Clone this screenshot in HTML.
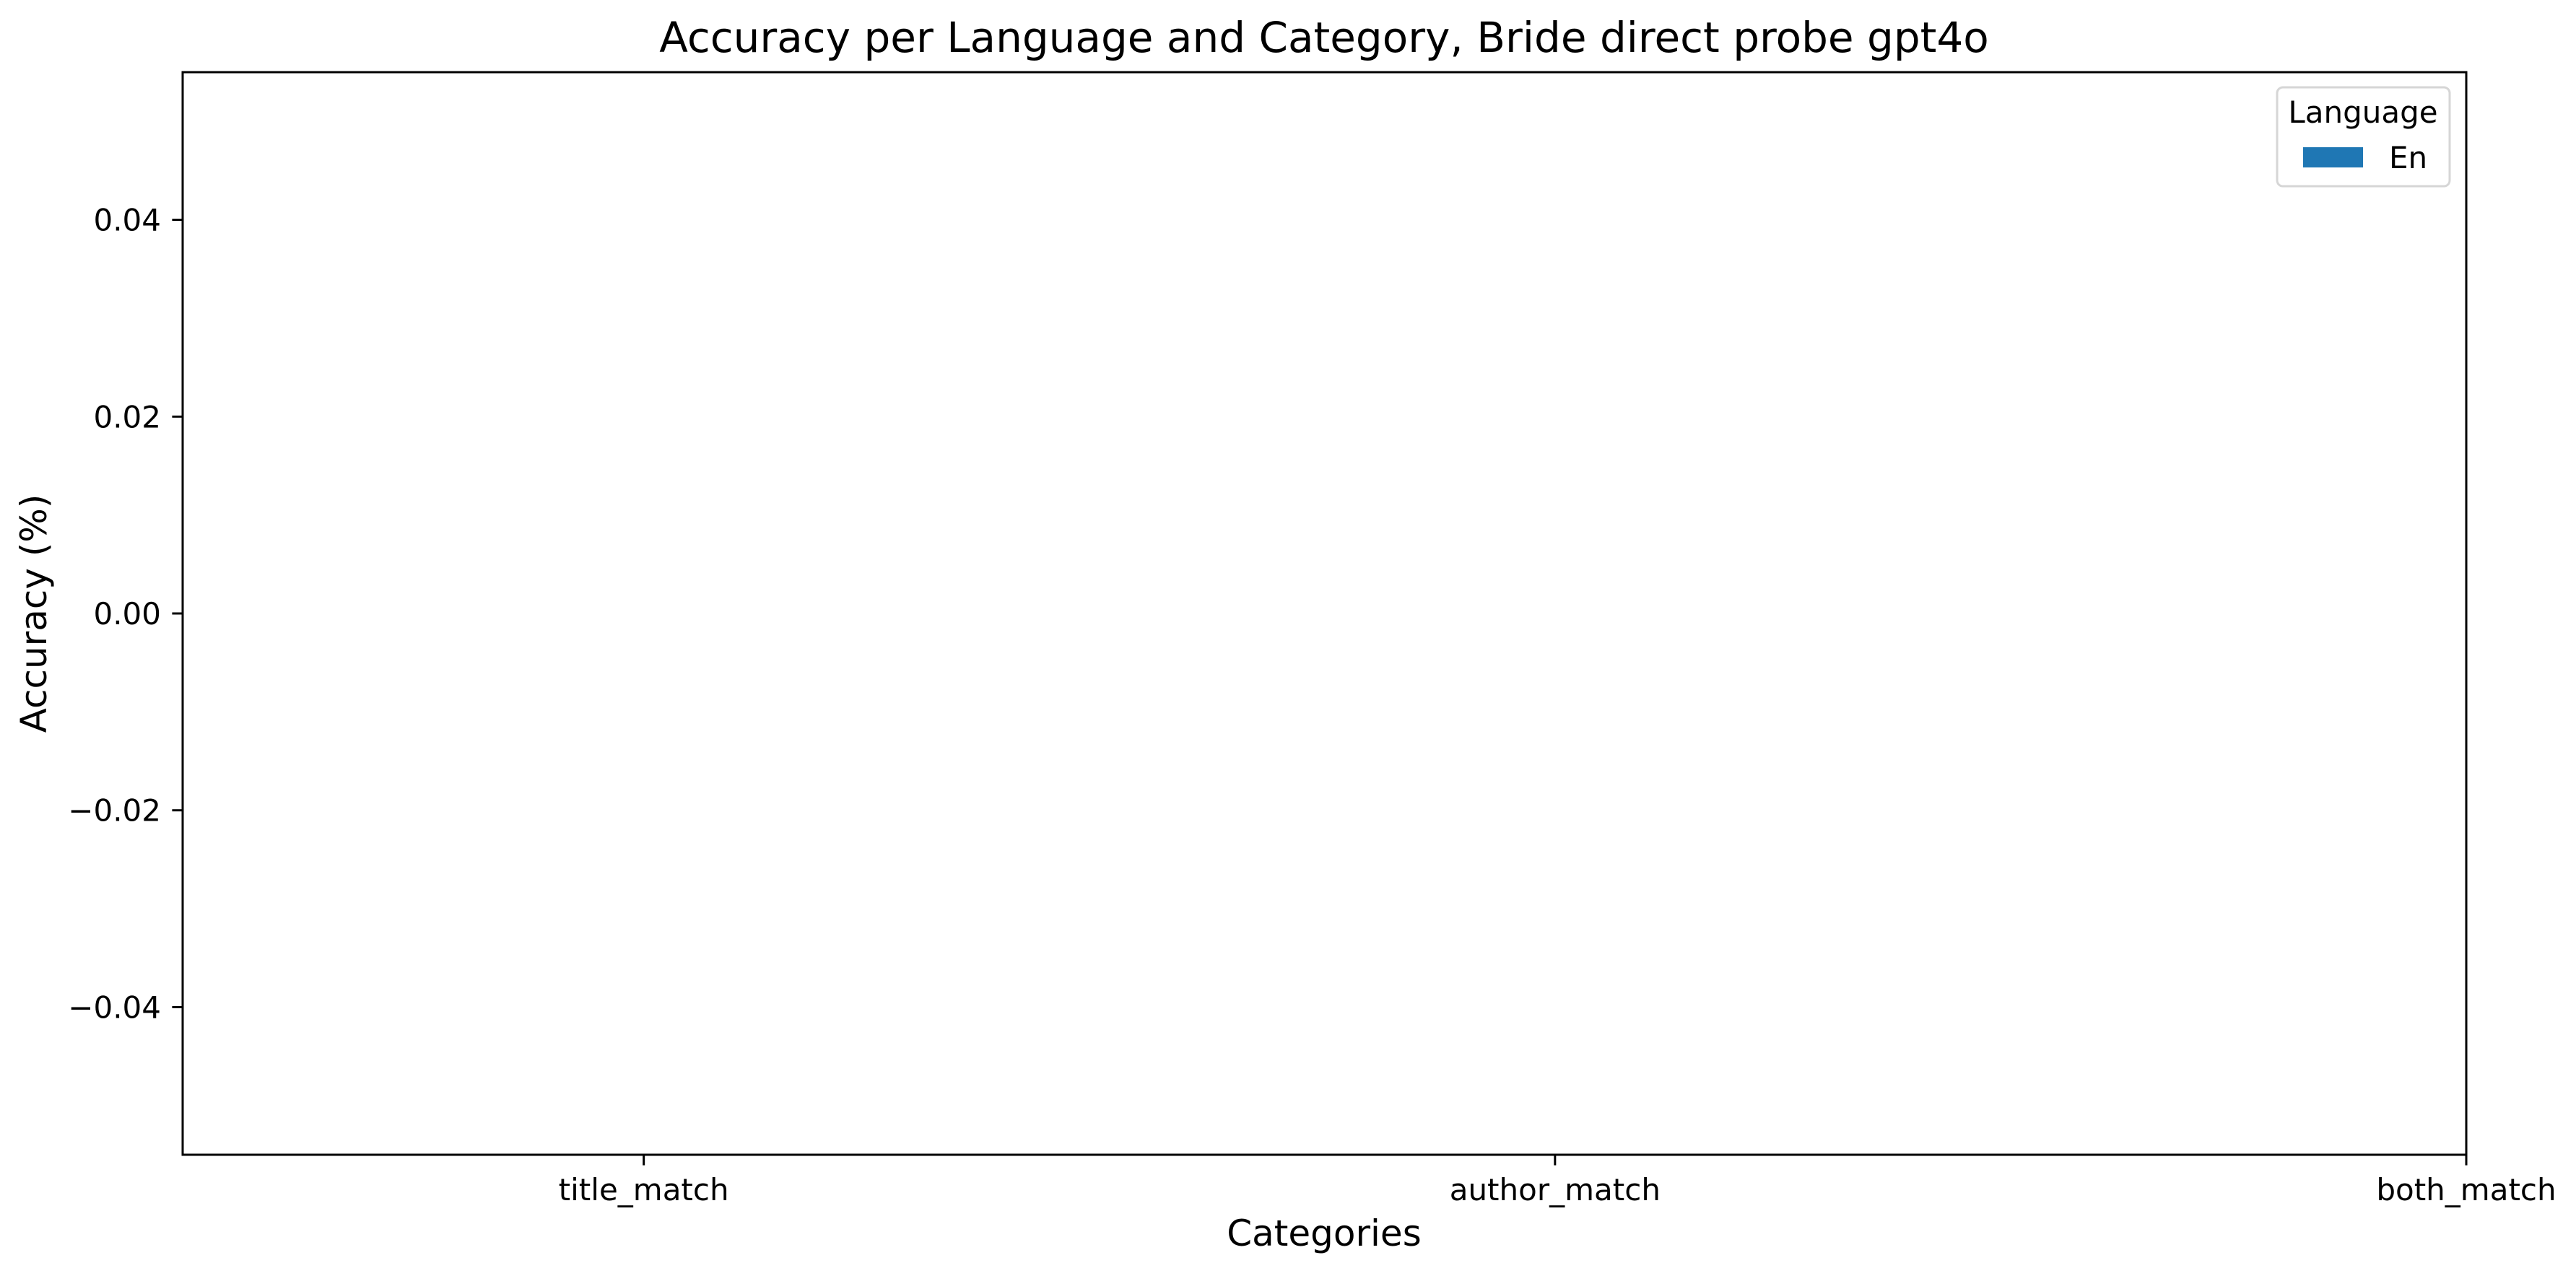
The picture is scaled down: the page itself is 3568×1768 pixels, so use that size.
<!DOCTYPE html>
<html><head><meta charset="utf-8"><style>
html,body{margin:0;padding:0;background:#fff;}
svg{display:block;font-family:"DejaVu Sans","Liberation Sans",sans-serif;}
</style></head><body>
<svg id="chart" width="3568" height="1768" viewBox="0 0 3568 1768" xmlns="http://www.w3.org/2000/svg">
<rect width="3568" height="1768" fill="#fff"/>
<text x="1834" y="72" font-size="58" text-anchor="middle">Accuracy per Language and Category, Bride direct probe gpt4o</text>
<g id="plot"></g>
<text x="1834" y="1726" font-size="50" text-anchor="middle">Categories</text>
<text transform="translate(64,850) rotate(-90)" font-size="50" text-anchor="middle">Accuracy (%)</text>
<g>
<rect x="3154" y="121" width="239" height="137" rx="8" fill="#fff" stroke="#d6d6d6" stroke-width="3"/>
<text x="3273" y="170" font-size="42" text-anchor="middle">Language</text>
<rect x="3190" y="204" width="83" height="28" fill="#1f77b4"/>
<text x="3309" y="233" font-size="42">En</text>
</g>
</svg>
<script>
const categories = ["title_match", "author_match", "both_match"];
const seriesEn = [0, 0, 0];
const yTicks = [-0.04, -0.02, 0.00, 0.02, 0.04];
const yTickLabels = ["\u22120.04", "\u22120.02", "0.00", "0.02", "0.04"];

const L = 253, R = 3416, T = 100, B = 1600;
const yMin = -0.055, yMax = 0.055, xMin = -0.506, xMax = 2.0;
const ns = "http://www.w3.org/2000/svg";
const g = document.getElementById('plot');
function sx(v){ return L + (v - xMin) / (xMax - xMin) * (R - L); }
function sy(v){ return B - (v - yMin) / (yMax - yMin) * (B - T); }
function mk(tag, attrs){ const e = document.createElementNS(ns, tag); for (const k in attrs) e.setAttribute(k, attrs[k]); g.appendChild(e); return e; }

const barW = 0.8;
seriesEn.forEach((v, i) => {
  const y0 = sy(0), y1 = sy(v);
  const r = mk('rect', {x: sx(i - barW/2), y: Math.min(y0, y1), width: sx(barW) - sx(0), height: Math.abs(y1 - y0), fill: '#1f77b4'});
  
  
});

yTicks.forEach((t, i) => {
  const y = sy(t);
  const tk = mk('line', {x1: L - 14.6, x2: L, y1: y, y2: y, stroke: '#000', 'stroke-width': 3});
  
  
  const lb = mk('text', {x: L - 30, y: y + 15, 'font-size': 42, 'text-anchor': 'end'});
  lb.textContent = yTickLabels[i];
  
  
});

categories.forEach((c, i) => {
  const x = sx(i);
  const tk = mk('line', {x1: x, x2: x, y1: B, y2: B + 14.6, stroke: '#000', 'stroke-width': 3});
  
  
  const lb = mk('text', {x: x, y: 1663, 'font-size': 42, 'text-anchor': 'middle'});
  lb.textContent = c;
  
  
});

const frame = mk('rect', {x: L, y: T, width: R - L, height: B - T, fill: 'none', stroke: '#000', 'stroke-width': 3});


</script>
</body></html>
